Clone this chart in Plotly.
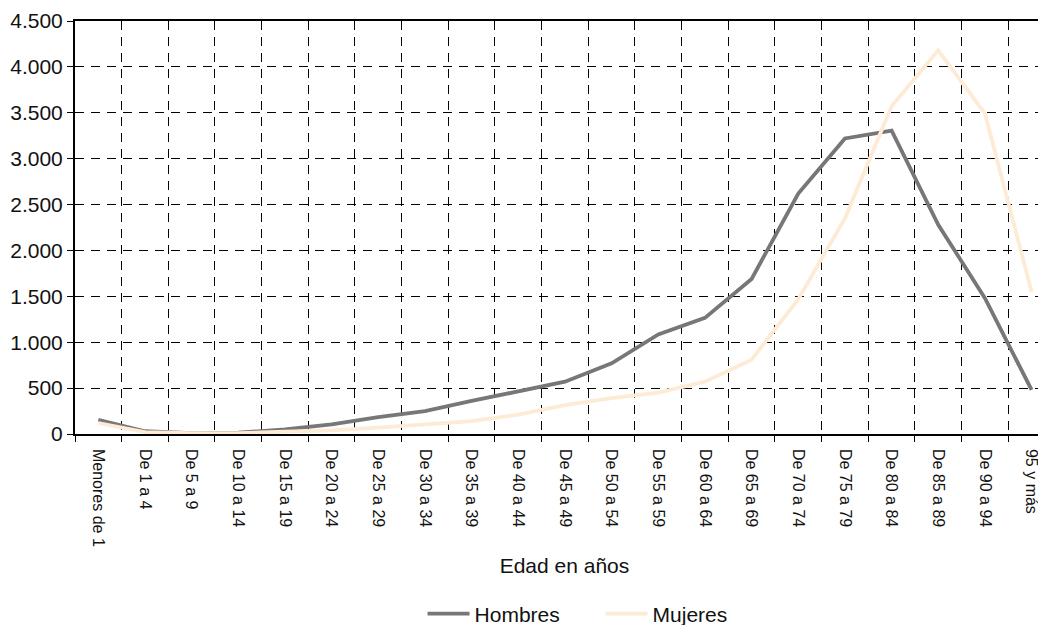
import plotly.graph_objects as go

categories = ["Menores de 1", "De 1 a 4", "De 5 a 9", "De 10 a 14", "De 15 a 19",
              "De 20 a 24", "De 25 a 29", "De 30 a 34", "De 35 a 39", "De 40 a 44",
              "De 45 a 49", "De 50 a 54", "De 55 a 59", "De 60 a 64", "De 65 a 69",
              "De 70 a 74", "De 75 a 79", "De 80 a 84", "De 85 a 89", "De 90 a 94",
              "95 y más"]

hombres = [155, 30, 10, 15, 50, 105, 185, 250, 360, 460, 570, 770, 1085, 1265, 1690,
           2620, 3220, 3305, 2280, 1480, 480]
mujeres = [120, 20, 8, 10, 25, 40, 70, 100, 140, 210, 315, 390, 450, 570, 810,
           1470, 2350, 3570, 4180, 3490, 1550]

y_ticks = [0, 500, 1000, 1500, 2000, 2500, 3000, 3500, 4000, 4500]
y_ticktext = ["0", "500", "1.000", "1.500", "2.000", "2.500", "3.000", "3.500", "4.000", "4.500"]

FONT = "Liberation Sans, Arial, sans-serif"

fig = go.Figure()
fig.add_trace(go.Scatter(x=categories, y=hombres, mode="lines", name="Hombres",
                         line=dict(color="#777777", width=3.8)))
fig.add_trace(go.Scatter(x=categories, y=mujeres, mode="lines", name="Mujeres",
                         line=dict(color="#FDEBD6", width=3.8)))

# page body adds an 8px offset; margins compensate for it
fig.update_layout(
    width=1046, height=625,
    margin=dict(l=67, r=0, t=13, b=199),
    paper_bgcolor="white", plot_bgcolor="white",
    font=dict(family=FONT, size=17, color="#111111"),
    showlegend=True,
    legend=dict(orientation="h", x=0.355, xanchor="left", xref="paper",
                y=0.0304, yanchor="middle", yref="container",
                font=dict(size=21), tracegroupgap=0, bgcolor="rgba(0,0,0,0)",
                itemwidth=42, entrywidth=121),
    xaxis=dict(
        type="category", range=[-0.5, 20.48], automargin=False,
        tickson="boundaries", ticks="outside", ticklen=6, tickcolor="black",
        tickangle=90, tickfont=dict(size=16), ticklabelstandoff=10,
        showgrid=True, gridcolor="black", gridwidth=1, griddash="9px,7px",
        showline=True, linecolor="black", linewidth=1.5, mirror=True,
        title=dict(text="Edad en años", font=dict(size=21), standoff=12),
        zeroline=False,
    ),
    yaxis=dict(
        range=[0, 4500], tickvals=y_ticks, ticktext=y_ticktext, automargin=False,
        ticks="outside", ticklen=6, tickcolor="black", tickfont=dict(size=21),
        showgrid=True, gridcolor="black", gridwidth=1, griddash="9px,7px",
        showline=True, linecolor="black", linewidth=2,
        zeroline=False,
    ),
)

fig.write_html("out.html")
